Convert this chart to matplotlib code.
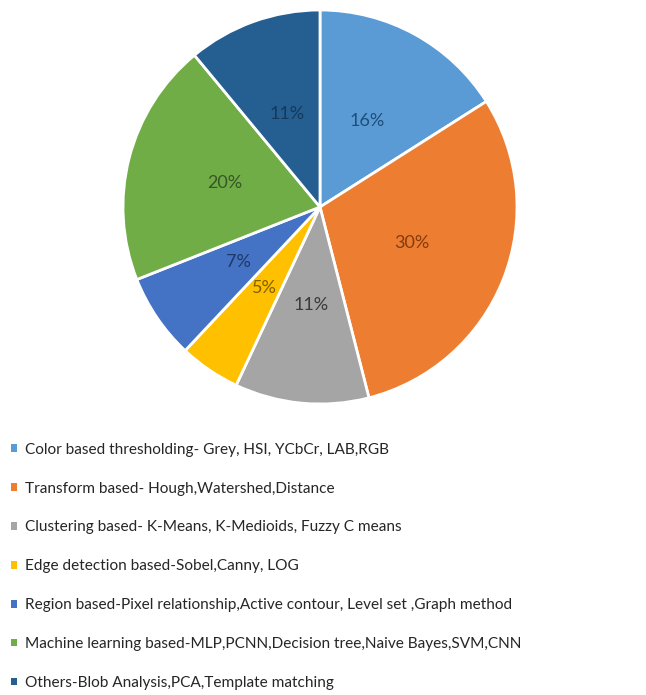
import matplotlib
matplotlib.use('Agg')
import matplotlib.pyplot as plt

plt.rcParams['font.family'] = ['Lato', 'DejaVu Sans']

categories = [
    'Color based thresholding- Grey, HSI, YCbCr, LAB,RGB',
    'Transform based- Hough,Watershed,Distance',
    'Clustering based- K-Means, K-Medioids, Fuzzy C means',
    'Edge detection based-Sobel,Canny, LOG',
    'Region based-Pixel relationship,Active contour, Level set ,Graph method',
    'Machine learning based-MLP,PCNN,Decision tree,Naive Bayes,SVM,CNN',
    'Others-Blob Analysis,PCA,Template matching',
]
shares = [16, 30, 11, 5, 7, 20, 11]
colors = ['#5b9bd5', '#ed7d31', '#a5a5a5', '#ffc000', '#4472c4', '#70ad47', '#255e91']
label_colors = ['#1f4e79', '#843c0c', '#3a3a3a', '#7f6000', '#203864', '#375623', '#16395a']

fig = plt.figure(figsize=(6.46, 6.95), dpi=100, facecolor='w')
# pie centre ~ (320, 207) px, radius ~197 px
r = 197
ax = fig.add_axes([(320 - r) / 646, 1 - (207 + r) / 695, 2 * r / 646, 2 * r / 695])

wedges, texts, autotexts = ax.pie(
    shares, colors=colors, startangle=90, counterclock=False,
    autopct='%d%%', pctdistance=0.5,
    wedgeprops=dict(edgecolor='white', linewidth=2))
for t, c in zip(autotexts, label_colors):
    t.set_color(c)
    t.set_fontsize(13)
ax.set_xlim(-1.0, 1.0)
ax.set_ylim(-1.0, 1.0)
ax.set_aspect('equal')

leg = fig.legend(wedges, categories, loc='upper left', bbox_to_anchor=(0.0, 1 - 432 / 695),
                 frameon=False, fontsize=11.05, handlelength=0.4, handleheight=0.4,
                 handletextpad=0.55, labelspacing=1.62, borderaxespad=0.3,
                 labelcolor='#262626')
for h in leg.legend_handles:
    h.set_linewidth(0)

plt.savefig('out.png', dpi=100, facecolor='w')
